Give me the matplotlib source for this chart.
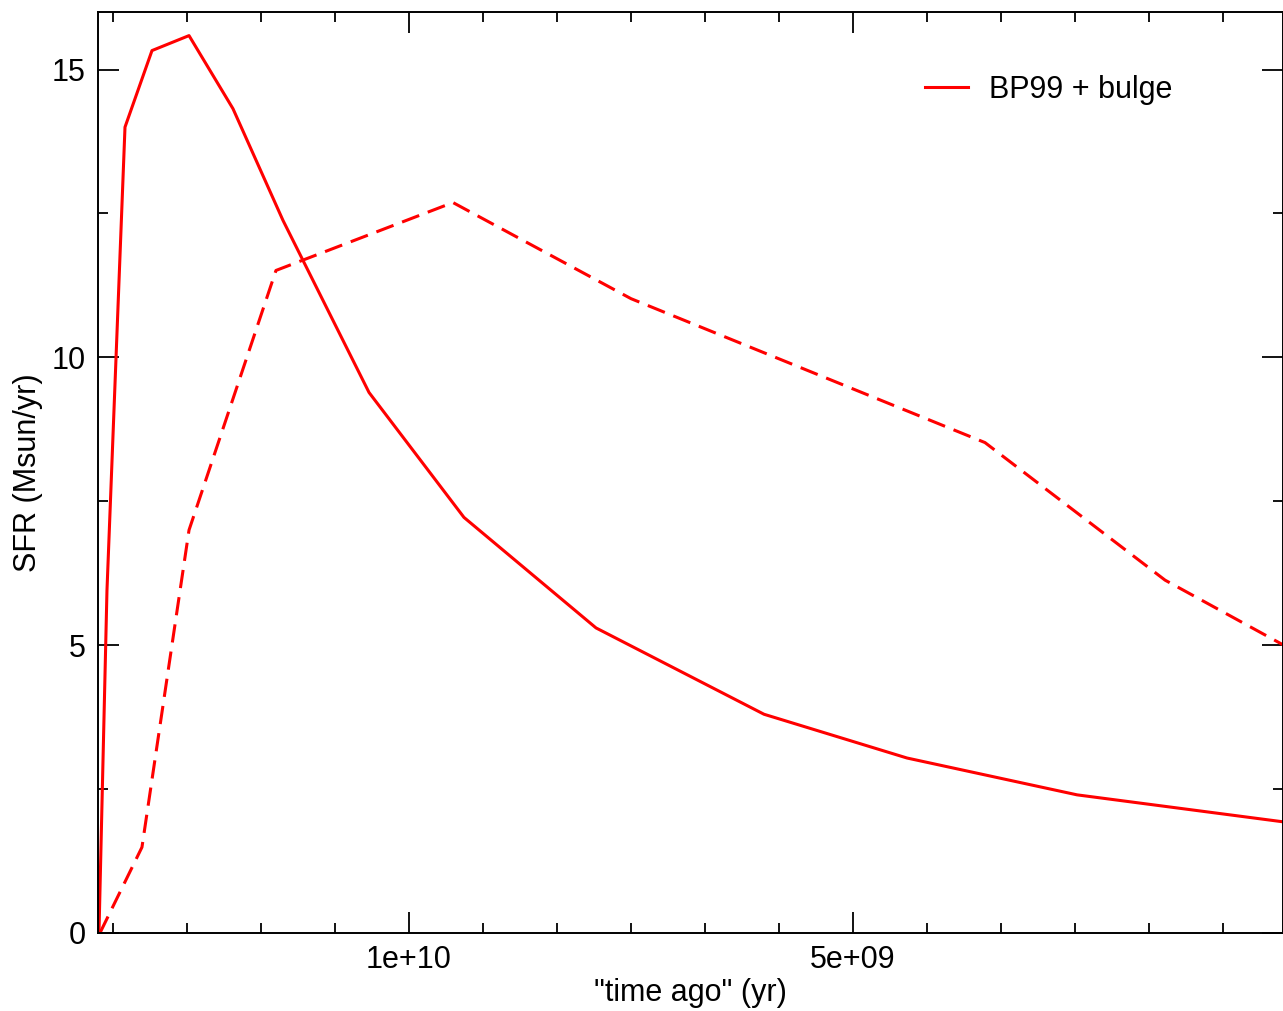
import matplotlib
matplotlib.use("Agg")
import matplotlib.pyplot as plt
from matplotlib.ticker import MultipleLocator, FixedLocator

# SFR history, "time ago" in yr
T_BULGE = [1.3491e10, 1.3401e10, 1.3198e10, 1.2894e10, 1.2477e10, 1.1982e10,
           1.1419e10, 1.0450e10, 9.381e9, 7.894e9, 6.002e9, 4.392e9, 2.477e9, 1.5e8]
SFR_BULGE = [0.0, 5.95, 14.0, 15.33, 15.59, 14.32, 12.38, 9.39, 7.22, 5.30,
             3.80, 3.04, 2.40, 1.93]

T_DISK = [1.348e10, 1.3007e10, 1.2477e10, 1.1498e10, 9.505e9, 7.5e9, 3.514e9,
          1.486e9, 1.5e8]
SFR_DISK = [0.0, 1.49, 7.0, 11.51, 12.69, 11.02, 8.52, 6.13, 5.0]

RED = "#ff0000"
FS = 22

plt.rcParams["font.family"] = ["Liberation Sans", "DejaVu Sans"]

fig = plt.figure(figsize=(12.83, 10.11), dpi=100)
ax = fig.add_axes([98 / 1283, 1 - 933 / 1011, (1283 - 98) / 1283, (933 - 12) / 1011])

ax.plot(T_BULGE, SFR_BULGE, color=RED, lw=2.2, label="BP99 + bulge")
ax.plot(T_DISK, SFR_DISK, color=RED, lw=2.2, ls=(0, (6, 3)))

ax.set_xlim(1.3502e10, 1.58e8)
ax.set_ylim(0, 16)

ax.xaxis.set_major_locator(FixedLocator([1e10, 5e9]))
ax.set_xticklabels(["1e+10", "5e+09"])
ax.xaxis.set_minor_locator(MultipleLocator(5e9 / 6))
ax.yaxis.set_major_locator(MultipleLocator(5))
ax.yaxis.set_minor_locator(MultipleLocator(2.5))

ax.tick_params(which="both", direction="in", top=True, right=True,
               labelsize=FS, width=1.3, colors="black")
ax.tick_params(which="major", length=15, pad=9)
ax.tick_params(which="minor", length=7.5)
for s in ax.spines.values():
    s.set_linewidth(1.4)

ax.set_xlabel('"time ago" (yr)', fontsize=FS, labelpad=2)
ax.set_ylabel("SFR (Msun/yr)", fontsize=FS, labelpad=6)

ax.legend(loc="center left", bbox_to_anchor=(925 / 1283, 1 - 90 / 1011),
          bbox_transform=fig.transFigure, frameon=False, fontsize=FS,
          handlelength=1.4, handletextpad=0.7, borderpad=0, borderaxespad=0)

fig.savefig("out.png", dpi=100)
